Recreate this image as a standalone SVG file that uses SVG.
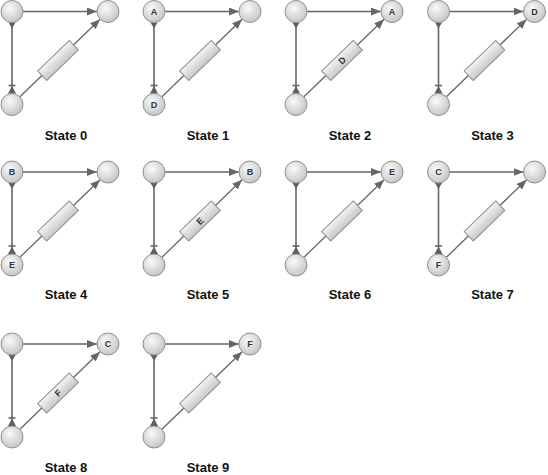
<svg xmlns="http://www.w3.org/2000/svg" xmlns:xlink="http://www.w3.org/1999/xlink" width="548" height="475" viewBox="0 0 548 475">
<style>
.n{fill:url(#cg);stroke:#8f8f8f;stroke-width:1}
.ln{stroke:#666;stroke-width:1.6;fill:none}
.dl{stroke:#666;stroke-width:1.3;fill:none}
.hd{fill:#5f5f5f}
.box{fill:url(#bg);stroke:#8f8f8f;stroke-width:1}
.nt{font-family:"Liberation Sans",Arial,sans-serif;font-size:9px;font-weight:bold;fill:#333;text-anchor:middle}
.bt{font-family:"Liberation Sans",Arial,sans-serif;font-size:9px;font-weight:bold;fill:#333;text-anchor:middle}
.st{font-family:"Liberation Sans",Arial,sans-serif;font-size:13px;font-weight:bold;fill:#111;text-anchor:middle}
</style>
<defs>
<radialGradient id="cg" cx="0.4" cy="0.35" r="0.7">
<stop offset="0" stop-color="#fafafa"/>
<stop offset="1" stop-color="#c2c2c2"/>
</radialGradient>
<linearGradient id="bg" x1="0" y1="0" x2="0" y2="1">
<stop offset="0" stop-color="#f4f4f4"/>
<stop offset="1" stop-color="#c8c8c8"/>
</linearGradient>
<marker id="ah" markerUnits="userSpaceOnUse" viewBox="0 0 10 8" refX="10" refY="4" markerWidth="10" markerHeight="8" orient="auto">
<path d="M0,0 L10,4 L0,8 z" fill="#666"/>
</marker>
<g id="conn">
<line class="ln" x1="11" y1="0" x2="85" y2="0" marker-end="url(#ah)"/>
<line class="ln" x1="0" y1="11" x2="0" y2="81"/>
<path class="hd" d="M-3.5,11 L3.5,11 L0,17 z"/>
<path class="hd" d="M0,74.5 L4,82 L-4,82 z"/>
<line class="ln" x1="-3.5" y1="74" x2="3.5" y2="74" stroke-width="1"/>
<line class="dl" x1="7.9" y1="85.3" x2="88.1" y2="7.7" marker-end="url(#ah)"/>
</g>
</defs>

<!-- State 0 -->
<g id="state0" transform="translate(12,11.5)">
<g id="s0-connectors"><use xlink:href="#conn"/><rect class="box" x="-22" y="-6.5" width="44" height="13" transform="translate(46,49) rotate(-44)"/></g>
<g id="s0-tl"><circle class="n" cx="0" cy="0" r="11"/></g>
<g id="s0-tr"><circle class="n" cx="96" cy="0" r="11"/></g>
<g id="s0-bl"><circle class="n" cx="0" cy="93" r="11"/></g>
<text class="st" x="54" y="128.5">State 0</text>
</g>

<!-- State 1 -->
<g id="state1" transform="translate(154,11.5)">
<g id="s1-connectors"><use xlink:href="#conn"/><rect class="box" x="-22" y="-6.5" width="44" height="13" transform="translate(46,49) rotate(-44)"/></g>
<g id="s1-tl"><circle class="n" cx="0" cy="0" r="11"/><text class="nt" x="0" y="3.2">A</text></g>
<g id="s1-tr"><circle class="n" cx="96" cy="0" r="11"/></g>
<g id="s1-bl"><circle class="n" cx="0" cy="93" r="11"/><text class="nt" x="0" y="96.2">D</text></g>
<text class="st" x="54" y="128.5">State 1</text>
</g>

<!-- State 2 -->
<g id="state2" transform="translate(296,11.5)">
<g id="s2-connectors"><use xlink:href="#conn"/><g transform="translate(46,49) rotate(-44)"><rect class="box" x="-22" y="-6.5" width="44" height="13"/><text class="bt" x="0" y="3.2">D</text></g></g>
<g id="s2-tl"><circle class="n" cx="0" cy="0" r="11"/></g>
<g id="s2-tr"><circle class="n" cx="96" cy="0" r="11"/><text class="nt" x="96" y="3.2">A</text></g>
<g id="s2-bl"><circle class="n" cx="0" cy="93" r="11"/></g>
<text class="st" x="54" y="128.5">State 2</text>
</g>

<!-- State 3 -->
<g id="state3" transform="translate(438.5,11.5)">
<g id="s3-connectors"><use xlink:href="#conn"/><rect class="box" x="-22" y="-6.5" width="44" height="13" transform="translate(46,49) rotate(-44)"/></g>
<g id="s3-tl"><circle class="n" cx="0" cy="0" r="11"/></g>
<g id="s3-tr"><circle class="n" cx="96" cy="0" r="11"/><text class="nt" x="96" y="3.2">D</text></g>
<g id="s3-bl"><circle class="n" cx="0" cy="93" r="11"/></g>
<text class="st" x="54" y="128.5">State 3</text>
</g>

<!-- State 4 -->
<g id="state4" transform="translate(12,172)">
<g id="s4-connectors"><use xlink:href="#conn"/><rect class="box" x="-22" y="-6.5" width="44" height="13" transform="translate(46,49) rotate(-44)"/></g>
<g id="s4-tl"><circle class="n" cx="0" cy="0" r="11"/><text class="nt" x="0" y="3.2">B</text></g>
<g id="s4-tr"><circle class="n" cx="96" cy="0" r="11"/></g>
<g id="s4-bl"><circle class="n" cx="0" cy="93" r="11"/><text class="nt" x="0" y="96.2">E</text></g>
<text class="st" x="54" y="127">State 4</text>
</g>

<!-- State 5 -->
<g id="state5" transform="translate(154,172)">
<g id="s5-connectors"><use xlink:href="#conn"/><g transform="translate(46,49) rotate(-44)"><rect class="box" x="-22" y="-6.5" width="44" height="13"/><text class="bt" x="0" y="3.2">E</text></g></g>
<g id="s5-tl"><circle class="n" cx="0" cy="0" r="11"/></g>
<g id="s5-tr"><circle class="n" cx="96" cy="0" r="11"/><text class="nt" x="96" y="3.2">B</text></g>
<g id="s5-bl"><circle class="n" cx="0" cy="93" r="11"/></g>
<text class="st" x="54" y="127">State 5</text>
</g>

<!-- State 6 -->
<g id="state6" transform="translate(296,172)">
<g id="s6-connectors"><use xlink:href="#conn"/><rect class="box" x="-22" y="-6.5" width="44" height="13" transform="translate(46,49) rotate(-44)"/></g>
<g id="s6-tl"><circle class="n" cx="0" cy="0" r="11"/></g>
<g id="s6-tr"><circle class="n" cx="96" cy="0" r="11"/><text class="nt" x="96" y="3.2">E</text></g>
<g id="s6-bl"><circle class="n" cx="0" cy="93" r="11"/></g>
<text class="st" x="54" y="127">State 6</text>
</g>

<!-- State 7 -->
<g id="state7" transform="translate(438.5,172)">
<g id="s7-connectors"><use xlink:href="#conn"/><rect class="box" x="-22" y="-6.5" width="44" height="13" transform="translate(46,49) rotate(-44)"/></g>
<g id="s7-tl"><circle class="n" cx="0" cy="0" r="11"/><text class="nt" x="0" y="3.2">C</text></g>
<g id="s7-tr"><circle class="n" cx="96" cy="0" r="11"/></g>
<g id="s7-bl"><circle class="n" cx="0" cy="93" r="11"/><text class="nt" x="0" y="96.2">F</text></g>
<text class="st" x="54" y="127">State 7</text>
</g>

<!-- State 8 -->
<g id="state8" transform="translate(12,344)">
<g id="s8-connectors"><use xlink:href="#conn"/><g transform="translate(46,49) rotate(-44)"><rect class="box" x="-22" y="-6.5" width="44" height="13"/><text class="bt" x="0" y="3.2">F</text></g></g>
<g id="s8-tl"><circle class="n" cx="0" cy="0" r="11"/></g>
<g id="s8-tr"><circle class="n" cx="96" cy="0" r="11"/><text class="nt" x="96" y="3.2">C</text></g>
<g id="s8-bl"><circle class="n" cx="0" cy="93" r="11"/></g>
<text class="st" x="54" y="128">State 8</text>
</g>

<!-- State 9 -->
<g id="state9" transform="translate(154,344)">
<g id="s9-connectors"><use xlink:href="#conn"/><rect class="box" x="-22" y="-6.5" width="44" height="13" transform="translate(46,49) rotate(-44)"/></g>
<g id="s9-tl"><circle class="n" cx="0" cy="0" r="11"/></g>
<g id="s9-tr"><circle class="n" cx="96" cy="0" r="11"/><text class="nt" x="96" y="3.2">F</text></g>
<g id="s9-bl"><circle class="n" cx="0" cy="93" r="11"/></g>
<text class="st" x="54" y="128">State 9</text>
</g>
</svg>
